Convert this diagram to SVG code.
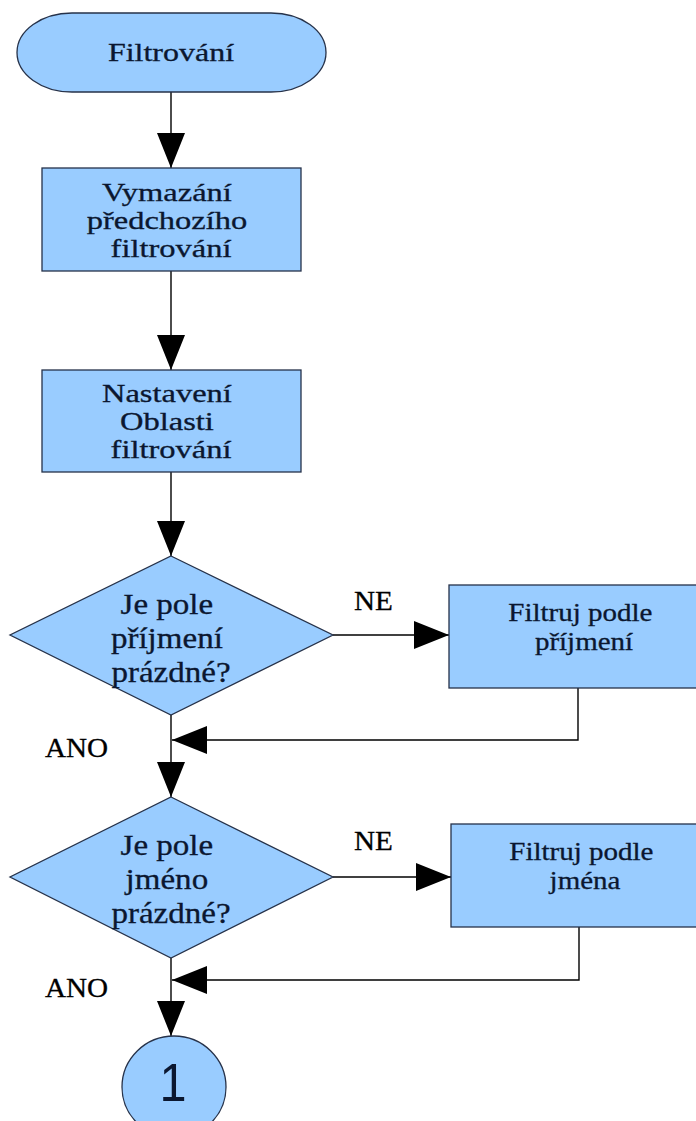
<svg xmlns="http://www.w3.org/2000/svg" width="696" height="1121" viewBox="0 0 696 1121">
  <defs>
    <marker id="arrow" markerUnits="userSpaceOnUse" markerWidth="36" markerHeight="28" refX="35" refY="14" orient="auto">
      <path d="M0,0 L35,14 L0,28 Z" fill="#000"/>
    </marker>
    <style>
      .shape { fill: #99ccff; stroke: #26324a; stroke-width: 1.3; }
      .lbl { font-family: "Liberation Serif", "Times New Roman", serif; font-size: 25px; fill: #0b1730; stroke: #0b1730; stroke-width: 0.3; text-anchor: middle; }
      .big { font-size: 29px; }
      .edge-lbl { font-family: "Liberation Serif", "Times New Roman", serif; font-size: 27px; fill: #000; stroke: #000; stroke-width: 0.3; }
      .num { font-family: "Liberation Sans", Arial, sans-serif; font-size: 54px; fill: #0b1730; text-anchor: middle; }
      .conn { fill: none; stroke: #000; stroke-width: 1.4; }
    </style>
  </defs>

  <rect width="696" height="1121" fill="#fff"/>

  <!-- connectors -->
  <g id="connectors">
    <path class="conn" d="M171,92 V168" marker-end="url(#arrow)"/>
    <path class="conn" d="M171,271 V370" marker-end="url(#arrow)"/>
    <path class="conn" d="M171,472 V556" marker-end="url(#arrow)"/>
    <path class="conn" d="M333,635 H449" marker-end="url(#arrow)"/>
    <path class="conn" d="M578,688 V740 H172" marker-end="url(#arrow)"/>
    <path class="conn" d="M171,715 V797" marker-end="url(#arrow)"/>
    <path class="conn" d="M333,877 H451" marker-end="url(#arrow)"/>
    <path class="conn" d="M579,927 V980 H172" marker-end="url(#arrow)"/>
    <path class="conn" d="M171,958 V1036" marker-end="url(#arrow)"/>
    <text class="edge-lbl" transform="translate(354,610) scale(1.08,1)">NE</text>
    <text class="edge-lbl" transform="translate(45,757) scale(1.08,1)">ANO</text>
    <text class="edge-lbl" transform="translate(354,850) scale(1.08,1)">NE</text>
    <text class="edge-lbl" transform="translate(45,997) scale(1.08,1)">ANO</text>
  </g>

  <!-- start terminator -->
  <g id="start">
    <rect class="shape" x="17" y="13" width="309" height="79" rx="55" ry="39.5"/>
    <text class="lbl" transform="translate(171,61) scale(1.28,1)">Filtrování</text>
  </g>

  <g id="clear-filter">
    <rect class="shape" x="42" y="168" width="259" height="103"/>
    <text class="lbl" transform="translate(171,0) scale(1.3,1)">
      <tspan x="0" y="201">Vymazání</tspan>
      <tspan x="0" y="229">předchozího</tspan>
      <tspan x="0" y="257">filtrování</tspan>
    </text>
  </g>

  <g id="set-range">
    <rect class="shape" x="42" y="370" width="259" height="102"/>
    <text class="lbl" transform="translate(171,0) scale(1.3,1)">
      <tspan x="0" y="402">Nastavení</tspan>
      <tspan x="0" y="430">Oblasti</tspan>
      <tspan x="0" y="458">filtrování</tspan>
    </text>
  </g>

  <g id="surname-empty">
    <polygon class="shape" points="171,556 333,635 171,715 10,635"/>
    <text class="lbl big" transform="translate(171,0) scale(1.14,1)">
      <tspan x="0" y="614">Je pole</tspan>
      <tspan x="0" y="648">příjmení</tspan>
      <tspan x="0" y="682">prázdné?</tspan>
    </text>
  </g>

  <g id="filter-surname">
    <rect class="shape" x="449" y="585" width="284" height="103"/>
    <text class="lbl" transform="translate(584,0) scale(1.16,1)">
      <tspan x="0" y="621">Filtruj podle</tspan>
      <tspan x="0" y="650">příjmení</tspan>
    </text>
  </g>

  <g id="name-empty">
    <polygon class="shape" points="171,797 333,877 171,958 10,877"/>
    <text class="lbl big" transform="translate(171,0) scale(1.14,1)">
      <tspan x="0" y="855">Je pole</tspan>
      <tspan x="0" y="889">jméno</tspan>
      <tspan x="0" y="923">prázdné?</tspan>
    </text>
  </g>

  <g id="filter-name">
    <rect class="shape" x="451" y="824" width="284" height="103"/>
    <text class="lbl" transform="translate(585,0) scale(1.16,1)">
      <tspan x="0" y="860">Filtruj podle</tspan>
      <tspan x="0" y="889">jména</tspan>
    </text>
  </g>

  <g id="connector-1">
    <ellipse class="shape" cx="174" cy="1087" rx="52" ry="51"/>
    <text class="num" transform="translate(173,1101) scale(0.9,1)">1</text>
  </g>
</svg>
